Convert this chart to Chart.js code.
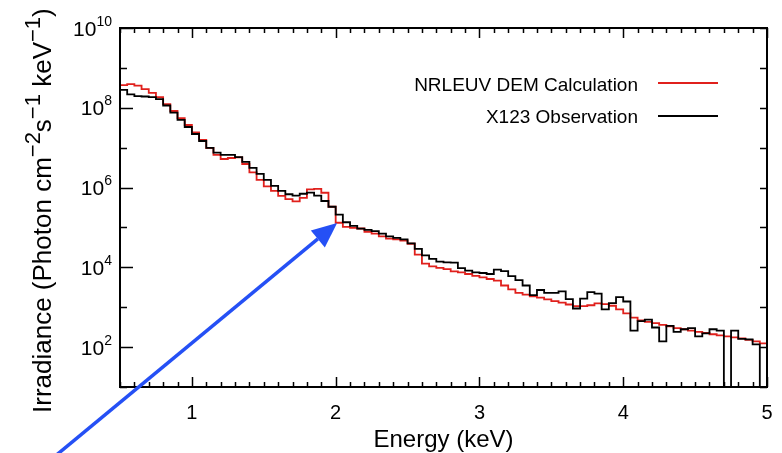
<!DOCTYPE html>
<html>
<head>
<meta charset="utf-8">
<script src="https://cdn.jsdelivr.net/npm/chart.js@4"></script>
<style>
  html, body { margin: 0; padding: 0; background: #fff; }
  #wrap { width: 782px; height: 453px; position: relative; }
</style>
</head>
<body>
<div id="wrap"><canvas id="chart"></canvas></div>
<script>
// left bin edges in keV (last entry is the right edge at 5 keV)
const energy = [
  0.50, 0.55, 0.60, 0.65, 0.70, 0.75, 0.80, 0.85, 0.90, 0.95,
  1.00, 1.05, 1.10, 1.15, 1.20, 1.25, 1.30, 1.35, 1.40, 1.45,
  1.50, 1.55, 1.60, 1.65, 1.70, 1.75, 1.80, 1.85, 1.90, 1.95,
  2.00, 2.05, 2.10, 2.15, 2.20, 2.25, 2.30, 2.35, 2.40, 2.45,
  2.50, 2.55, 2.60, 2.65, 2.70, 2.75, 2.80, 2.85, 2.90, 2.95,
  3.00, 3.05, 3.10, 3.15, 3.20, 3.25, 3.30, 3.35, 3.40, 3.45,
  3.50, 3.55, 3.60, 3.65, 3.70, 3.75, 3.80, 3.85, 3.90, 3.95,
  4.00, 4.05, 4.10, 4.15, 4.20, 4.25, 4.30, 4.35, 4.40, 4.45,
  4.50, 4.55, 4.60, 4.65, 4.70, 4.75, 4.80, 4.85, 4.90, 4.95,
  5.00
];

// NRLEUV DEM Calculation (red)
const demCalc = [
  3.7e8, 3.9e8, 3.6e8, 2.94e8, 2.37e8, 1.85e8, 1.24e8, 8.3e7, 5.5e7, 3.7e7,
  2.4e7, 1.56e7, 9.8e6, 6.6e6, 5.2e6, 5.5e6, 5.7e6, 3.9e6, 2.4e6, 1.56e6,
  1.07e6, 8.3e5, 6.2e5, 5.1e5, 4.5e5, 5.5e5, 9.0e5, 9.3e5, 7.4e5, 3.3e5,
  1.31e5, 1.03e5, 9.8e4, 9.4e4, 7.8e4, 7.0e4, 6.0e4, 5.25e4, 5.05e4, 4.7e4,
  3.9e4, 2.08e4, 1.24e4, 1.06e4, 9.7e3, 9.0e3, 7.9e3, 7.5e3, 6.8e3, 6.1e3,
  5.6e3, 5.1e3, 4.65e3, 3.5e3, 2.8e3, 2.3e3, 2.08e3, 1.87e3, 1.75e3, 1.58e3,
  1.43e3, 1.31e3, 1.17e3, 1.06e3, 1.06e3, 1.12e3, 1.25e3, 1.2e3, 1.09e3, 880,
  700, 550, 470, 430, 400, 360, 330, 300, 280, 260,
  240, 226, 210, 196, 185, 175, 165, 151, 139, 124,
  120
];

// X123 Observation (black)
const x123Obs = [
  2.8e8, 2.16e8, 1.96e8, 1.92e8, 1.86e8, 1.65e8, 1.14e8, 7.6e7, 5.0e7, 3.3e7,
  2.2e7, 1.47e7, 9.9e6, 7.5e6, 6.6e6, 6.6e6, 5.8e6, 4.4e6, 3.1e6, 2.2e6,
  1.56e6, 1.1e6, 8.3e5, 6.8e5, 6.3e5, 7.0e5, 7.5e5, 6.3e5, 4.6e5, 3.3e5,
  2.1e5, 1.35e5, 1.1e5, 9.3e4, 8.7e4, 8.1e4, 7.0e4, 6.0e4, 5.5e4, 5.0e4,
  4.0e4, 2.9e4, 2.0e4, 1.63e4, 1.39e4, 1.33e4, 1.31e4, 9.5e3, 8.3e3, 7.5e3,
  7.2e3, 6.8e3, 8.8e3, 8.0e3, 6.0e3, 4.8e3, 3.5e3, 2.0e3, 2.7e3, 2.3e3,
  2.3e3, 2.5e3, 1.6e3, 930, 1.65e3, 2.4e3, 2.2e3, 880, 1.27e3, 1.8e3,
  1.39e3, 260, 450, 490, 310, 140, 340, 240, 280, 300,
  185, 220, 280, 260, 1, 260, 160, 156, 117, 1,
  1
];

const seriesNames = ["NRLEUV DEM Calculation", "X123 Observation"];
const seriesColors = ["#e0201c", "#000000"];
const xTickLabels = [1, 2, 3, 4, 5];
const yTickPowers = [2, 4, 6, 8, 10];

// blue annotation arrow, in data units (tail is off the plot, bottom left)
const arrowFrom = [0.06, 0.2];
const arrowTo = [2.01, 1.29e5];

const FONT = '"Liberation Sans", Arial, Helvetica, sans-serif';

function toPoints(vals) {
    return energy.map((e, i) => ({ x: e, y: vals[i] }));
}

// draws text made of [text, isSuperscript] pieces starting at (0,0) going right
function drawRich(ctx, parts, size, supSize, raise) {
    let cx = 0;
    parts.forEach(([txt, sup]) => {
        ctx.font = (sup ? supSize : size) + "px " + FONT;
        ctx.fillText(txt, cx, sup ? -raise : 0);
        cx += ctx.measureText(txt).width;
    });
}

const framePlugin = {
    id: "frame",
    afterDraw(chart) {
        const { ctx, chartArea: a, scales } = chart;
        const xs = scales.x, ys = scales.y;
        ctx.save();
        ctx.strokeStyle = "#000";
        ctx.fillStyle = "#000";
        ctx.lineWidth = 2;
        ctx.strokeRect(a.left, a.top, a.right - a.left, a.bottom - a.top);

        // x ticks every 0.1 keV, top and bottom, pointing inward
        ctx.lineWidth = 1.5;
        for (let k = 5; k <= 50; k++) {
            const px = Math.round(xs.getPixelForValue(k / 10)) + 0.5;
            const len = k % 10 === 0 ? 10 : 5;
            ctx.beginPath();
            ctx.moveTo(px, a.bottom); ctx.lineTo(px, a.bottom - len);
            ctx.moveTo(px, a.top); ctx.lineTo(px, a.top + len);
            ctx.stroke();
        }
        // y ticks each decade
        for (let p = 1; p <= 10; p++) {
            const py = Math.round(ys.getPixelForValue(Math.pow(10, p))) + 0.5;
            const len = p % 2 === 0 ? 13 : 7;
            ctx.beginPath();
            ctx.moveTo(a.left, py); ctx.lineTo(a.left + len, py);
            ctx.moveTo(a.right, py); ctx.lineTo(a.right - 7, py);
            ctx.stroke();
        }

        // x tick labels
        ctx.textAlign = "center";
        ctx.textBaseline = "alphabetic";
        ctx.font = "20px " + FONT;
        xTickLabels.forEach(v => {
            ctx.fillText(String(v), xs.getPixelForValue(v), 419);
        });

        // y tick labels 10^n
        ctx.textAlign = "left";
        yTickPowers.forEach(p => {
            const py = ys.getPixelForValue(Math.pow(10, p));
            ctx.font = "14px " + FONT;
            const ew = ctx.measureText(String(p)).width;
            ctx.font = "21px " + FONT;
            const bw = ctx.measureText("10").width;
            const right = 112;
            ctx.fillText("10", right - ew - bw, py + 7.5);
            ctx.font = "14px " + FONT;
            ctx.fillText(String(p), right - ew, py - 2.5);
        });

        // axis titles
        ctx.textAlign = "center";
        ctx.font = "24px " + FONT;
        ctx.fillText("Energy (keV)", (a.left + a.right) / 2, 447);

        ctx.save();
        ctx.translate(51, 413);
        ctx.rotate(-Math.PI / 2);
        ctx.textAlign = "left";
        drawRich(ctx, [
            ["Irradiance (Photon cm", false], ["\u22122", true],
            ["s", false], ["\u22121", true],
            [" keV", false], ["\u22121", true], [")", false]
        ], 26, 22, 11);
        ctx.restore();

        // legend: text then line on the right
        ctx.font = "19px " + FONT;
        ctx.textAlign = "right";
        const rows = [[91, 83], [123, 116]];
        seriesNames.forEach((name, i) => {
            ctx.fillStyle = "#000";
            ctx.fillText(name, 638, rows[i][0]);
            ctx.strokeStyle = seriesColors[i];
            ctx.lineWidth = 2;
            ctx.beginPath();
            ctx.moveTo(658, rows[i][1]); ctx.lineTo(718, rows[i][1]);
            ctx.stroke();
        });

        // blue arrow
        const x0 = xs.getPixelForValue(arrowFrom[0]), y0 = ys.getPixelForValue(arrowFrom[1]);
        const x1 = xs.getPixelForValue(arrowTo[0]), y1 = ys.getPixelForValue(arrowTo[1]);
        const ang = Math.atan2(y1 - y0, x1 - x0);
        const headLen = 25, headW = 11;
        const bx = x1 - headLen * Math.cos(ang), by = y1 - headLen * Math.sin(ang);
        ctx.strokeStyle = "#2550f5";
        ctx.fillStyle = "#2550f5";
        ctx.lineWidth = 3.5;
        ctx.beginPath();
        ctx.moveTo(x0, y0); ctx.lineTo(bx, by);
        ctx.stroke();
        ctx.beginPath();
        ctx.moveTo(x1, y1);
        ctx.lineTo(bx + headW * Math.sin(ang), by - headW * Math.cos(ang));
        ctx.lineTo(bx - headW * Math.sin(ang), by + headW * Math.cos(ang));
        ctx.closePath();
        ctx.fill();

        ctx.restore();
    }
};

const chart = new Chart(document.getElementById("chart"), {
    type: "line",
    data: {
        datasets: [
            {
                label: seriesNames[0],
                data: toPoints(demCalc),
                borderColor: seriesColors[0],
                borderWidth: 1.8,
                pointRadius: 0,
                stepped: true,
                order: 2
            },
            {
                label: seriesNames[1],
                data: toPoints(x123Obs),
                borderColor: seriesColors[1],
                borderWidth: 1.8,
                pointRadius: 0,
                stepped: true,
                order: 1
            }
        ]
    },
    options: {
        responsive: true,
        maintainAspectRatio: false,
        animation: false,
        layout: { padding: { left: 120, right: 15, top: 28, bottom: 66 } },
        plugins: { legend: { display: false }, tooltip: { enabled: false } },
        scales: {
            x: { type: "linear", min: 0.5, max: 5, display: false },
            y: { type: "logarithmic", min: 10, max: 1e10, display: false }
        }
    },
    plugins: [framePlugin]
});
</script>
</body>
</html>
